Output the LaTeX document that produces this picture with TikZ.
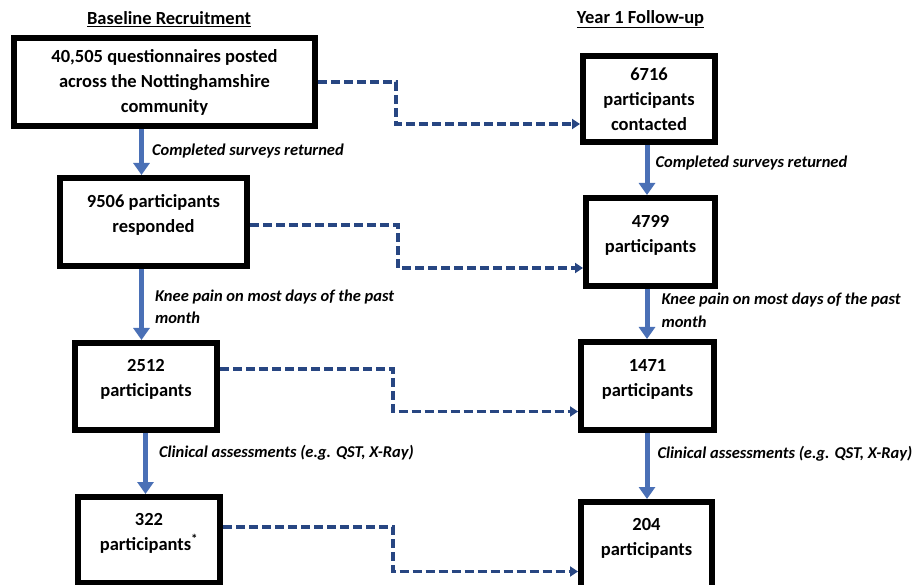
\documentclass[tikz,border=0pt]{standalone}
\usepackage{fontspec}
\setmainfont{Carlito}
\usepackage{tikz}
\usetikzlibrary{arrows.meta, positioning}
\definecolor{flowblue}{RGB}{74,112,182}
\definecolor{dashblue}{RGB}{40,70,130}
\tikzstyle{countbox} = [rectangle, draw, line width=6pt, align=center, inner sep=0pt, font=\fontsize{18.5}{25}\selectfont\bfseries]
\tikzstyle{lowbox} = [countbox, text depth=17pt]
\tikzstyle{heading} = [font=\fontsize{18.5}{22}\selectfont\bfseries]
\tikzstyle{note} = [align=left, inner sep=0pt, font=\fontsize{16.5}{22.5}\selectfont\bfseries\itshape]
\tikzstyle{flow} = [-{Triangle[width=16pt,length=12pt]}, line width=5pt, draw=flowblue]
\tikzstyle{link} = [-{Triangle[width=10pt,length=8pt]}, line width=3.5pt, draw=dashblue, dash pattern=on 9pt off 4pt]

\begin{document}
\begin{tikzpicture}[x=1pt, y=-1pt]
\useasboundingbox (0,0) rectangle (919,585);
\clip (0,0) rectangle (919,585);

% Column headings
\node[heading] (baseline) at (169,19) {\underline{Baseline Recruitment}};
\node[heading] (followup) at (640.5,19) {\underline{Year 1 Follow-up}};

% Baseline column
\node[countbox, minimum width=301pt, minimum height=88pt] (posted) at (164.5,82) {40,505 questionnaires posted\\across the Nottinghamshire\\community};
\node[lowbox, minimum width=187pt, minimum height=88pt, below=46pt of posted, xshift=-11pt] (responded) {9506 participants\\responded};
\node[lowbox, minimum width=142pt, minimum height=87pt, below=71pt of responded, xshift=-7.5pt] (kneepain) {2512\\participants};
\node[lowbox, minimum width=142pt, minimum height=86pt, below=61pt of kneepain, xshift=3pt] (assessed) {322\\participants\textsuperscript{*}};

% Follow-up column
\node[countbox, minimum width=132pt, minimum height=86pt] (contacted) at (649,99) {6716\\participants\\contacted};
\node[lowbox, minimum width=129pt, minimum height=88pt, below=50pt of contacted, xshift=1.5pt] (furesponded) {4799\\participants};
\node[lowbox, minimum width=133pt, minimum height=88pt, below=50pt of furesponded, xshift=-3pt] (fukneepain) {1471\\participants};
\node[lowbox, minimum width=131pt, minimum height=86pt, below=66pt of fukneepain, xshift=-1pt] (fuassessed) {204\\participants};

% Baseline steps
\draw[flow] ([xshift=-23pt]posted.south) -- ([xshift=-12pt]responded.north)
  node[note, pos=0.48, right=8pt] (returned) {Completed surveys returned};
\draw[flow] ([xshift=-12pt]responded.south) -- ([xshift=-4.5pt]kneepain.north)
  node[note, pos=0.53, right=11pt] (painmonth) {Knee pain on most days of the past\\month};
\draw[flow] ([xshift=-0.5pt]kneepain.south) -- ([xshift=-3.5pt]assessed.north)
  node[note, pos=0.33, right=11pt] (clinical) {Clinical assessments (e.g. QST, X-Ray)};

% Follow-up steps
\draw[flow] ([xshift=-2pt]contacted.south) -- ([xshift=-3.5pt]furesponded.north)
  node[note, pos=0.36, right=6pt] (fureturned) {Completed surveys returned};
\draw[flow] ([xshift=-3.5pt]furesponded.south) -- ([xshift=-0.5pt]fukneepain.north)
  node[note, pos=0.43, right=12pt] (fupainmonth) {Knee pain on most days of the past\\month};
\draw[flow] ([xshift=-0.5pt]fukneepain.south) -- ([xshift=0.5pt]fuassessed.north)
  node[note, pos=0.31, right=8pt] (fuclinical) {Clinical assessments (e.g. QST, X-Ray)};

% Baseline to follow-up links
\draw[link] (posted.east) -- ++(78,0) |- ([yshift=-25pt]contacted.west);
\draw[link] ([yshift=-3pt]responded.east) -- ++(148,0) |- ([yshift=-26pt]furesponded.west);
\draw[link] ([yshift=17.5pt]kneepain.east) -- ++(173,0) |- ([yshift=-25.5pt]fukneepain.west);
\draw[link] ([yshift=13pt]assessed.east) -- ++(170,0) |- ([yshift=-26.5pt]fuassessed.west);

\end{tikzpicture}
\end{document}
